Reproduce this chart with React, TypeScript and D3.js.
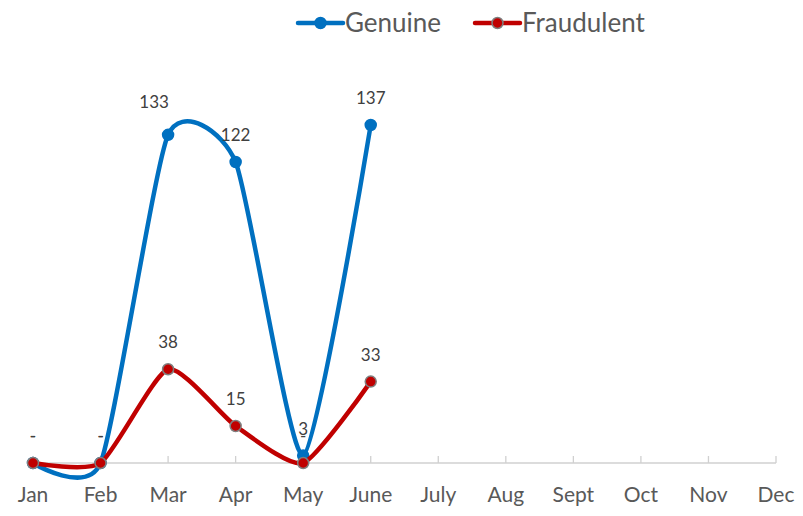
import { useEffect, useRef } from "react";
import * as d3 from "d3";

const months = ["Jan", "Feb", "Mar", "Apr", "May", "June", "July", "Aug", "Sept", "Oct", "Nov", "Dec"];
const genuine = [0, 0, 133, 122, 3, 137];
const fraudulent = [0, 0, 38, 15, 0, 33];

const W = 803;
const H = 516;
const BLUE = "#0070C0";
const RED = "#C00000";
const FONT = "Lato, 'Open Sans', sans-serif";

export default function App() {
  const svgRef = useRef<SVGSVGElement>(null);

  useEffect(() => {
    if (!svgRef.current) return;
    const svg = d3.select(svgRef.current);
    svg.selectAll("*").remove();

    const x = d3.scalePoint<string>().domain(months).range([33, 776]);
    const y = d3.scaleLinear().domain([0, 137]).range([463, 125]);

    // category axis
    const axis = svg.append("g").attr("transform", `translate(0,${y(0)})`);
    axis.append("line")
      .attr("x1", x("Jan")!).attr("x2", x("Dec")!)
      .attr("stroke", "#d0d0d0").attr("stroke-width", 1.3);
    axis.selectAll("line.tick")
      .data(months)
      .join("line")
      .attr("class", "tick")
      .attr("x1", (d) => x(d)!).attr("x2", (d) => x(d)!)
      .attr("y1", 0).attr("y2", -7)
      .attr("stroke", "#d0d0d0").attr("stroke-width", 1.3);
    axis.selectAll("text")
      .data(months)
      .join("text")
      .attr("x", (d) => x(d)!)
      .attr("y", 39)
      .attr("text-anchor", "middle")
      .style("font-family", FONT)
      .style("font-size", "21px")
      .style("fill", "#595959")
      .text((d) => d);

    const line = d3.line<number>()
      .x((_, i) => x(months[i])!)
      .y((d) => y(d))
      .curve(d3.curveCardinal.tension(0.4));

    const series = [
      { name: "Genuine", values: genuine, color: BLUE, stroke: BLUE },
      { name: "Fraudulent", values: fraudulent, color: RED, stroke: "#7f7f7f" },
    ];

    series.forEach((s) => {
      svg.append("path")
        .datum(s.values)
        .attr("d", line)
        .attr("fill", "none")
        .attr("stroke", s.color)
        .attr("stroke-width", 4.5)
        .attr("stroke-linecap", "round");

      svg.append("g")
        .selectAll("circle")
        .data(s.values)
        .join("circle")
        .attr("cx", (_, i) => x(months[i])!)
        .attr("cy", (d) => y(d))
        .attr("r", 5.5)
        .attr("fill", s.color)
        .attr("stroke", s.stroke)
        .attr("stroke-width", 1.5);
    });

    // data labels (zero shown as "-", Excel accounting style)
    series.forEach((s) => {
      svg.append("g")
        .selectAll("text")
        .data(s.values)
        .join("text")
        .attr("x", (_, i) => x(months[i])! + (s.name === "Genuine" && i === 2 ? -14 : 0))
        .attr("y", (d, i) => y(d) - 21 - (s.name === "Genuine" && i === 2 ? 6 : 0))
        .attr("text-anchor", "middle")
        .style("font-family", FONT)
        .style("font-size", "17px")
        .style("fill", "#404040")
        .text((d) => (d === 0 ? "-" : String(d)));
    });

    // legend
    const legend = svg.append("g").attr("transform", "translate(298,23)");
    const items = [
      { label: "Genuine", color: BLUE, stroke: BLUE, x: 0 },
      { label: "Fraudulent", color: RED, stroke: "#7f7f7f", x: 177 },
    ];
    items.forEach((it) => {
      const g = legend.append("g").attr("transform", `translate(${it.x},0)`);
      g.append("line").attr("x1", 0).attr("x2", 45)
        .attr("stroke", it.color).attr("stroke-width", 4.5).attr("stroke-linecap", "round");
      g.append("circle").attr("cx", 22.5).attr("r", 5.5)
        .attr("fill", it.color).attr("stroke", it.stroke).attr("stroke-width", 1.5);
      g.append("text").attr("x", 47).attr("y", 9)
        .style("font-family", FONT).style("font-size", "26px").style("fill", "#595959")
        .text(it.label);
    });
  }, []);

  return (
    <div style={{ width: W, height: H }}>
      <svg ref={svgRef} width={W} height={H} style={{ position: "absolute", left: 0, top: 0 }} />
    </div>
  );
}
